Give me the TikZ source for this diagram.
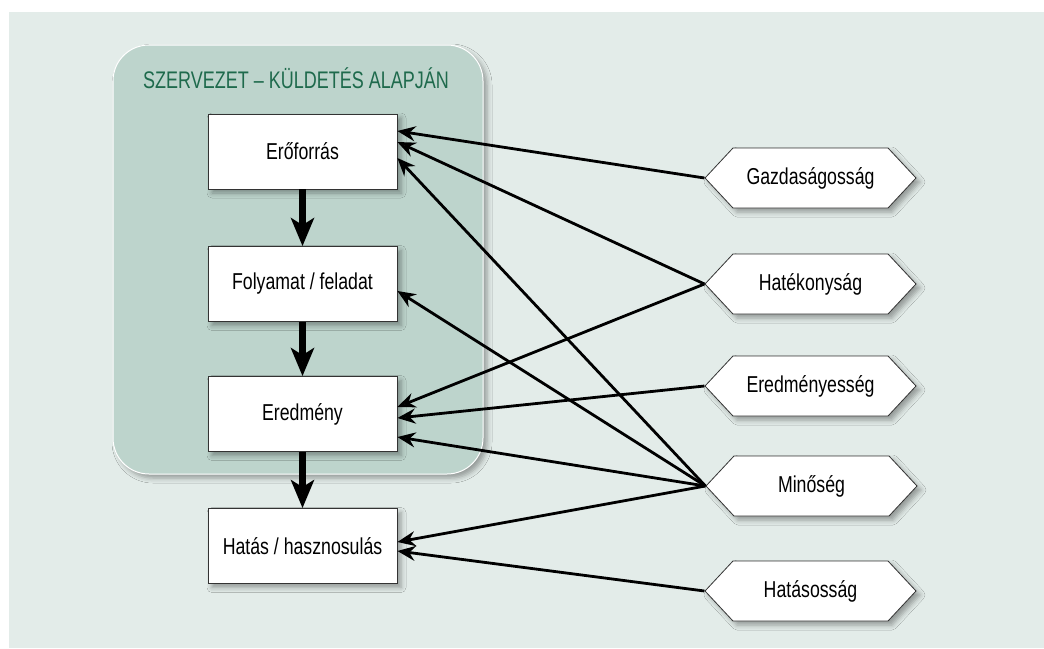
\documentclass[tikz,border=0pt]{standalone}
\usepackage{fontspec}
\setmainfont{Liberation Sans}[FakeStretch=0.77]
\newfontfamily\titlefont{Liberation Sans}[FakeStretch=0.75]
\usetikzlibrary{arrows.meta,shapes.symbols,shadows.blur}

\definecolor{panelbg}{HTML}{E3ECE9}
\definecolor{orgbg}{HTML}{BDD4CC}
\definecolor{titlegreen}{HTML}{1E6A4C}

\tikzset{
  softshadow/.style={blur shadow={shadow xshift=4pt, shadow yshift=-4pt,
      shadow blur radius=5pt, shadow opacity=35}},
  stage/.style={draw=black!80, line width=0.8pt, fill=white, softshadow,
      minimum width=189pt, minimum height=75pt, font=\fontsize{23}{26}\selectfont},
  measure/.style={shape=signal, signal to=west and east, signal pointer angle=94,
      draw=black!80, line width=0.8pt, fill=white, softshadow,
      minimum width=211pt, minimum height=60pt, inner sep=0pt,
      font=\fontsize{23}{26}\selectfont},
  flow/.style={line width=7pt, -{Stealth[length=28pt, width=23pt, inset=7pt]}},
  link/.style={line width=2.8pt, -{Stealth[length=18pt, width=15pt, inset=6pt]}},
}

\begin{document}
\begin{tikzpicture}[x=1pt, y=-1pt]
  % page and panel
  \useasboundingbox (0,0) rectangle (1044,648);
  \fill[white] (0,0) rectangle (1044,648);
  \fill[panelbg] (9,12) rectangle (1044,648);

  % organisation container
  \path[fill=orgbg, draw=white, line width=1pt, rounded corners=36pt, softshadow]
    (113,45) rectangle (483,474);
  \node[text=titlegreen, font=\titlefont\fontsize{24}{27}\selectfont] (title)
    at (296,78) {SZERVEZET – KÜLDETÉS ALAPJÁN};

  % stages
  \node[stage] (ero) at (302.5,151.5) {Erőforrás};
  \node[stage] (fol) at (302.5,284)   {Folyamat / feladat};
  \node[stage] (ere) at (302.5,414)   {Eredmény};
  \node[stage] (hat) at (302.5,546)   {Hatás / hasznosulás};

  \draw[flow] (ero.south) -- (fol.north);
  \draw[flow] (fol.south) -- (ere.north);
  \draw[flow] (ere.south) -- (hat.north);

  % measures
  \node[measure] (gaz) at (810.5,178) {Gazdaságosság};
  \node[measure] (hek) at (810.5,284) {Hatékonyság};
  \node[measure] (ers) at (810.5,386) {Eredményesség};
  \node[measure] (min) at (811.5,486) {Minőség};
  \node[measure] (has) at (810.5,591) {Hatásosság};

  % relations
  \draw[link] (gaz.west) -- ([yshift=20.5pt]ero.east);
  \draw[link] (hek.west) -- ([yshift=9.5pt]ero.east);
  \draw[link] (min.west) -- ([yshift=-6.5pt]ero.east);
  \draw[link] (min.west) -- ([yshift=-7pt]fol.east);
  \draw[link] (hek.west) -- ([yshift=7pt]ere.east);
  \draw[link] (ers.west) -- ([yshift=-4pt]ere.east);
  \draw[link] (min.west) -- ([yshift=-23pt]ere.east);
  \draw[link] (min.west) -- ([yshift=4pt]hat.east);
  \draw[link] (has.west) -- ([yshift=-5pt]hat.east);
\end{tikzpicture}
\end{document}
